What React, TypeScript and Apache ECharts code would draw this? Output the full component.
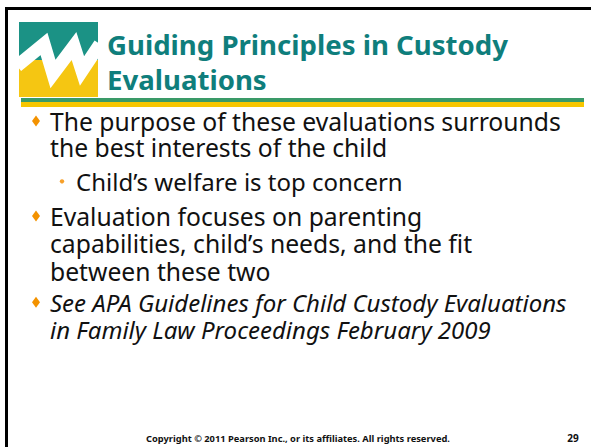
import React, { useEffect, useRef } from "react";
import * as echarts from "echarts";

const titleLines = ["Guiding Principles in Custody", "Evaluations"];
const bulletLevels = [1, 1, 2, 1, 1, 1, 1, 1];
const bulletMarks = [true, false, true, true, false, false, true, false];
const bulletItalic = [false, false, false, false, false, false, true, true];
const bodyLines = [
  "The purpose of these evaluations surrounds",
  "the best interests of the child",
  "Child\u2019s welfare is top concern",
  "Evaluation focuses on parenting",
  "capabilities, child\u2019s needs, and the fit",
  "between these two",
  "See APA Guidelines for Child Custody Evaluations",
  "in Family Law Proceedings February 2009",
];
const footerText = "Copyright \u00a9 2011 Pearson Inc., or its affiliates. All rights reserved.";
const pageNumber = "29";

const W = 591;
const H = 447;
const baselines = [130, 156, 190, 225, 252, 280, 311, 338];
const titleBaselines = [54, 89];

export default function App() {
  const ref = useRef<HTMLDivElement>(null);
  useEffect(() => {
    document.body.style.margin = "0";
    const chart = echarts.init(ref.current!, null, { renderer: "svg" });
    const bodyFont = "Noto Sans";
    const graphic: any[] = [];
    // frame
    graphic.push({ type: "rect", shape: { x: 0, y: 0, width: W, height: H }, style: { fill: "#ffffff" } });
    graphic.push({ type: "rect", shape: { x: 5, y: 7, width: W - 5, height: 3 }, style: { fill: "#000000" } });
    graphic.push({ type: "rect", shape: { x: 5, y: 7, width: 3, height: H - 7 }, style: { fill: "#000000" } });
    // logo
    graphic.push({ type: "rect", shape: { x: 19, y: 22, width: 79, height: 40 }, style: { fill: "#1b9285" } });
    graphic.push({ type: "rect", shape: { x: 19, y: 60, width: 79, height: 37 }, style: { fill: "#f5c612" } });
    graphic.push({
      type: "polyline",
      shape: { points: [[17, 66], [44, 44], [53, 74], [74, 46], [82, 71], [100, 44]] },
      style: { stroke: "#ffffff", lineWidth: 13, lineJoin: "miter", fill: null },
    });
    // cover overflow of logo stroke
    graphic.push({ type: "rect", shape: { x: 98, y: 20, width: 8, height: 80 }, style: { fill: "#ffffff" } });
    graphic.push({ type: "rect", shape: { x: 8, y: 20, width: 11, height: 80 }, style: { fill: "#ffffff" } });
    graphic.push({ type: "rect", shape: { x: 17, y: 10, width: 85, height: 12 }, style: { fill: "#ffffff" } });
    // title
    titleLines.forEach((t, i) => {
      graphic.push({
        type: "text",
        x: 107,
        y: titleBaselines[i] - 27.6 * 0.36,
        style: {
          text: t,
          fill: "#0f7e7c",
          font: "bold 27.6px 'Noto Sans'",
          verticalAlign: "middle",
          lineHeight: 28,
        },
      });
    });
    // rules
    graphic.push({ type: "rect", shape: { x: 21, y: 98, width: 563, height: 4 }, style: { fill: "#3a9a68" } });
    graphic.push({ type: "rect", shape: { x: 21, y: 102, width: 563, height: 5 }, style: { fill: "#f7c600" } });
    // body
    bodyLines.forEach((t, i) => {
      const lvl = bulletLevels[i];
      const size = bulletItalic[i] ? 24 : lvl === 1 ? 24.7 : 24;
      const base = baselines[i];
      const cy = base - size * 0.36;
      if (bulletMarks[i]) {
        if (lvl === 1) {
          graphic.push({
            type: "polygon",
            shape: { points: [[36, cy - 5.5], [40, cy], [36, cy + 5.5], [32, cy]] },
            style: { fill: "#f39200" },
          });
        } else {
          graphic.push({ type: "circle", shape: { cx: 62, cy: cy, r: 2.2 }, style: { fill: "#f7a02a" } });
        }
      }
      graphic.push({
        type: "text",
        x: lvl === 1 ? 50 : 76,
        y: cy,
        style: {
          text: t,
          fill: "#111111",
          font: `${bulletItalic[i] ? "italic " : ""}${size}px '${bodyFont}'`,
          verticalAlign: "middle",
          lineHeight: 22,
        },
      });
    });
    // footer
    graphic.push({
      type: "text",
      x: 298,
      y: 438,
      style: { text: footerText, fill: "#111111", font: "bold 9.3px 'Noto Sans'", align: "center", verticalAlign: "middle", lineHeight: 10 },
    });
    graphic.push({
      type: "text",
      x: 573,
      y: 438,
      style: { text: pageNumber, fill: "#111111", font: "bold 10px 'Noto Sans'", align: "center", verticalAlign: "middle", lineHeight: 10 },
    });
    chart.setOption({ animation: false, graphic });
    return () => chart.dispose();
  }, []);
  return <div ref={ref} style={{ width: W, height: H }} />;
}
